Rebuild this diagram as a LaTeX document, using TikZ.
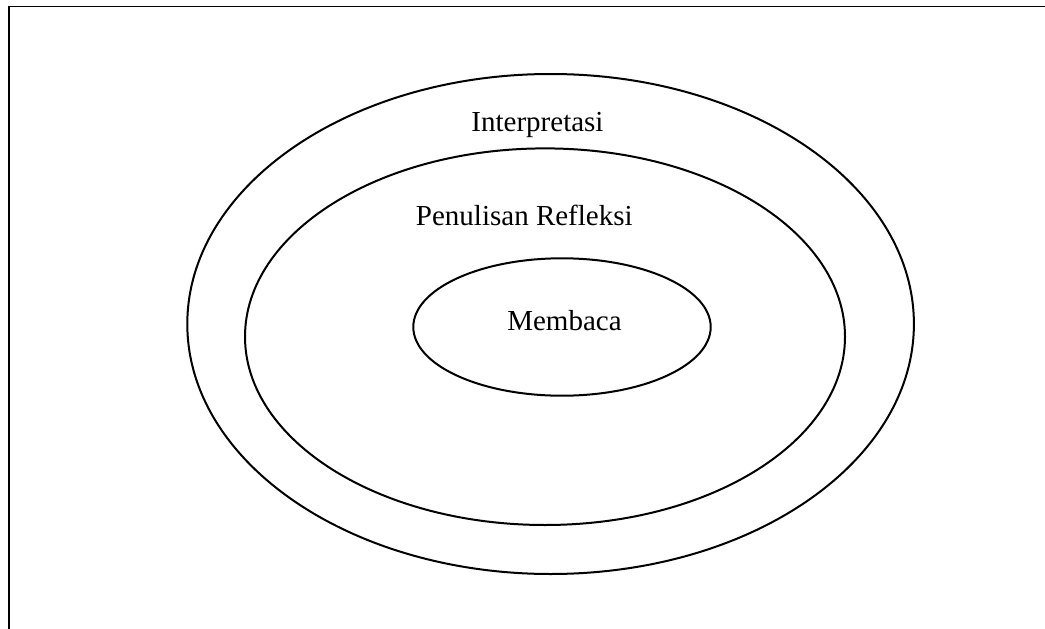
\documentclass[tikz,border=0pt]{standalone}
\usepackage{fontspec}
\setmainfont{Liberation Serif}
\usetikzlibrary{shapes.geometric}
\begin{document}
\begin{tikzpicture}[x=1pt,y=-1pt,
  ring/.style={draw=black, line width=2pt, ellipse, inner sep=0pt, outer sep=0pt},
  label/.style={anchor=base, inner sep=0pt, font=\fontsize{29}{34}\selectfont},
  frame/.style={draw=black, line width=1.8pt}]
\useasboundingbox (0,0) rectangle (1045,629);
% frame
\coordinate (tl) at (9,6.5);
\coordinate (tr) at (1045,6.5);
\coordinate (bl) at (9,629);
\draw[frame] (tr) -- (tl) -- (bl);
% ellipses
\node[ring, minimum width=726.6pt, minimum height=500pt] (outer) at (550.6,324) {};
\node[ring, minimum width=600pt, minimum height=376.6pt] (middle) at (545,336.7) {};
\node[ring, minimum width=297.4pt, minimum height=137.4pt] (inner) at (562,327) {};
% labels
\node[label] (t1) at (537.5,131.7) {Interpretasi};
\node[label] (t2) at (524.3,225) {Penulisan Refleksi};
\node[label] (t3) at (564.5,330) {Membaca};
\end{tikzpicture}
\end{document}
